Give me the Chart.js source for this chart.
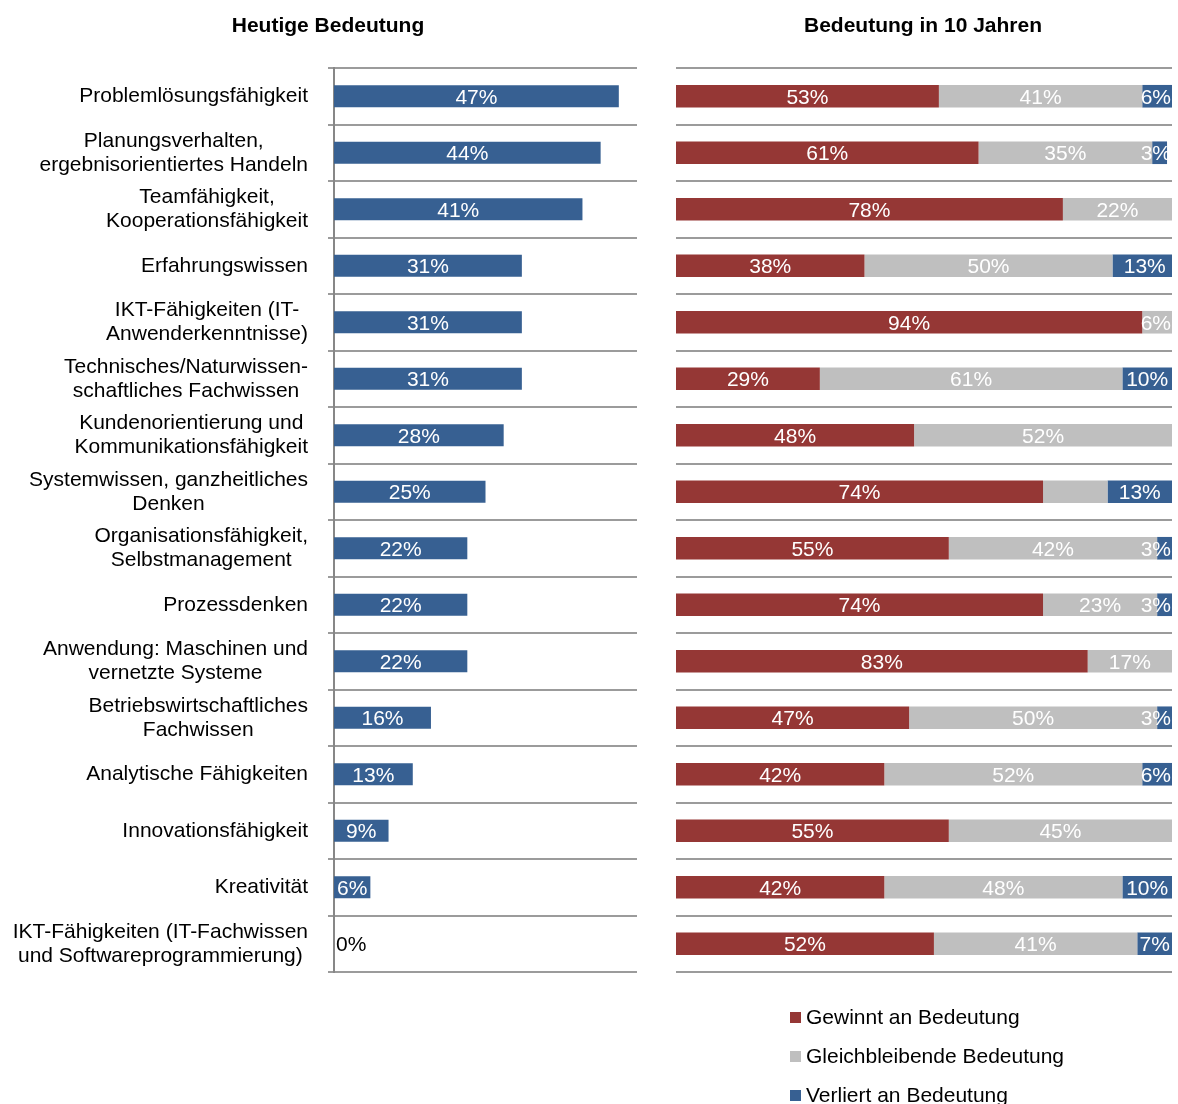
<!DOCTYPE html>
<html>
<head>
<meta charset="utf-8">
<script src="https://cdn.jsdelivr.net/npm/chart.js@4.4.0/dist/chart.umd.min.js"></script>
<style>
  body { margin: 0; background: #fff; width: 1178px; height: 1104px; overflow: hidden; position: relative; }
  #links { position: absolute; left: 0; top: 0; }
  #rechts { position: absolute; left: 660px; top: 0; }
</style>
</head>
<body>
<canvas id="links" width="660" height="1000"></canvas>
<canvas id="rechts" width="518" height="1104"></canvas>
<script>
// Kompetenzen (mehrzeilige Beschriftungen als Arrays)
var kategorien = [
  ["Problemlösungsfähigkeit"],
  ["Planungsverhalten,", "ergebnisorientiertes Handeln"],
  ["Teamfähigkeit,", "Kooperationsfähigkeit"],
  ["Erfahrungswissen"],
  ["IKT-Fähigkeiten (IT-", "Anwenderkenntnisse)"],
  ["Technisches/Naturwissen-", "schaftliches Fachwissen"],
  ["Kundenorientierung und", "Kommunikationsfähigkeit"],
  ["Systemwissen, ganzheitliches", "Denken"],
  ["Organisationsfähigkeit,", "Selbstmanagement"],
  ["Prozessdenken"],
  ["Anwendung: Maschinen und", "vernetzte Systeme"],
  ["Betriebswirtschaftliches", "Fachwissen"],
  ["Analytische Fähigkeiten"],
  ["Innovationsfähigkeit"],
  ["Kreativität"],
  ["IKT-Fähigkeiten (IT-Fachwissen", "und Softwareprogrammierung)"]
];

var heute = [47, 44, 41, 31, 31, 31, 28, 25, 22, 22, 22, 16, 13, 9, 6, 0];

var gewinnt = [53, 61, 78, 38, 94, 29, 48, 74, 55, 74, 83, 47, 42, 55, 42, 52];
var gleich = [41, 35, 22, 50, 6, 61, 52, 13, 42, 23, 17, 50, 52, 45, 48, 41];
var verliert = [6, 3, 0, 13, 0, 10, 0, 13, 3, 3, 0, 3, 6, 0, 10, 7];

var serien = ["Gewinnt an Bedeutung", "Gleichbleibende Bedeutung", "Verliert an Bedeutung"];
var titel = ["Heutige Bedeutung", "Bedeutung in 10 Jahren"];

// Segmente ohne Wertbeschriftung: [Datensatz, Kategorie]
var ohneBeschriftung = [[1, 7]];

var rot = "#953735";
var grau = "#bfbfbf";
var blau = "#376092";
var linie = "#9b9b9b";
var schrift = "'Liberation Sans', Arial, sans-serif";

Chart.defaults.font.family = schrift;
Chart.defaults.color = "#000";

// Prozentwerte auf die Balken schreiben
var balkenWerte = {
  id: "balkenWerte",
  afterDatasetsDraw: function (chart) {
    var ctx = chart.ctx;
    var area = chart.chartArea;
    ctx.save();
    ctx.font = "21px " + schrift;
    ctx.textBaseline = "middle";
    chart.data.datasets.forEach(function (ds, d) {
      chart.getDatasetMeta(d).data.forEach(function (bar, i) {
        var v = ds.data[i];
        var p = bar.getProps(["x", "base", "y"], true);
        var text = v + "%";
        if (v === 0) {
          if (chart.data.datasets.length > 1) return;
          ctx.textAlign = "left";
          ctx.fillStyle = "#000";
          ctx.fillText(text, p.base + 2, p.y + 1.5);
          return;
        }
        var skip = ohneBeschriftung.some(function (s) {
          return chart.data.datasets.length > 1 && s[0] === d && s[1] === i;
        });
        if (skip) return;
        var w = ctx.measureText(text).width;
        var cx = (p.x + p.base) / 2;
        cx = Math.min(cx, area.right - 1 - w / 2);
        cx = Math.max(cx, area.left + w / 2);
        ctx.textAlign = "center";
        ctx.fillStyle = "#fff";
        ctx.fillText(text, cx, p.y + 1.5);
      });
    });
    ctx.restore();
  }
};

// Kategorien links: Zeilen zentriert, Block rechtsbündig
var kategorieText = {
  id: "kategorieText",
  afterDraw: function (chart) {
    var ctx = chart.ctx;
    var y = chart.scales.y;
    var rechts = chart.chartArea.left - 26;
    ctx.save();
    ctx.font = "21px " + schrift;
    ctx.fillStyle = "#000";
    ctx.textAlign = "center";
    ctx.textBaseline = "middle";
    kategorien.forEach(function (zeilen, i) {
      var breite = 0;
      zeilen.forEach(function (z) { breite = Math.max(breite, ctx.measureText(z).width); });
      var cy = y.getPixelForValue(i) - (zeilen.length - 1) * 12;
      zeilen.forEach(function (z, k) {
        ctx.fillText(z, rechts - breite / 2, cy + k * 24);
      });
    });
    ctx.restore();
  }
};

// Legende untereinander unter dem rechten Diagramm
var legendeUnten = {
  id: "legendeUnten",
  afterDraw: function (chart) {
    var ctx = chart.ctx;
    var area = chart.chartArea;
    var x = area.left + 114;
    ctx.save();
    ctx.font = "21px " + schrift;
    ctx.textAlign = "left";
    ctx.textBaseline = "middle";
    chart.data.datasets.forEach(function (ds, d) {
      var y = area.bottom + 45 + d * 39;
      ctx.fillStyle = ds.backgroundColor;
      ctx.fillRect(x, y - 5, 11, 11);
      ctx.fillStyle = "#000";
      ctx.fillText(ds.label, x + 16, y + 1);
    });
    ctx.restore();
  }
};

function titelOptionen(text) {
  return {
    display: true,
    text: text,
    color: "#000",
    font: { size: 21, weight: "bold" },
    padding: { top: 13.4, bottom: 29.4 }
  };
}

new Chart(document.getElementById("links").getContext("2d"), {
  type: "bar",
  data: {
    labels: kategorien,
    datasets: [
      {
        label: titel[0],
        data: heute,
        backgroundColor: blau,
        barPercentage: 0.39,
        categoryPercentage: 1
      }
    ]
  },
  options: {
    indexAxis: "y",
    responsive: false,
    animation: false,
    layout: { padding: { top: 0, right: 23, bottom: 28, left: 19 } },
    plugins: {
      legend: { display: false },
      tooltip: { enabled: false },
      title: titelOptionen(titel[0])
    },
    scales: {
      x: { display: false, min: 0, max: 50 },
      y: {
        ticks: { display: false },
        grid: { color: linie, lineWidth: 2, offset: true, tickLength: 6, drawTicks: true },
        border: { display: true, color: "#878787", width: 2 },
        afterFit: function (scale) { scale.width = 315; }
      }
    }
  },
  plugins: [balkenWerte, kategorieText]
});

new Chart(document.getElementById("rechts").getContext("2d"), {
  type: "bar",
  data: {
    labels: kategorien,
    datasets: [
      { label: serien[0], data: gewinnt, backgroundColor: rot },
      { label: serien[1], data: gleich, backgroundColor: grau },
      { label: serien[2], data: verliert, backgroundColor: blau }
    ].map(function (ds) {
      ds.barPercentage = 0.4;
      ds.categoryPercentage = 1;
      return ds;
    })
  },
  options: {
    indexAxis: "y",
    responsive: false,
    animation: false,
    layout: { padding: { top: 0, right: 6, bottom: 132, left: 14 } },
    plugins: {
      legend: { display: false },
      tooltip: { enabled: false },
      title: titelOptionen(titel[1])
    },
    scales: {
      x: { display: false, stacked: true, min: 0, max: 100 },
      y: {
        stacked: true,
        ticks: { display: false },
        grid: { color: linie, lineWidth: 2, offset: true, drawTicks: false, tickLength: 0 },
        border: { display: false },
        afterFit: function (scale) { scale.width = 2; }
      }
    }
  },
  plugins: [balkenWerte, legendeUnten]
});
</script>
</body>
</html>
